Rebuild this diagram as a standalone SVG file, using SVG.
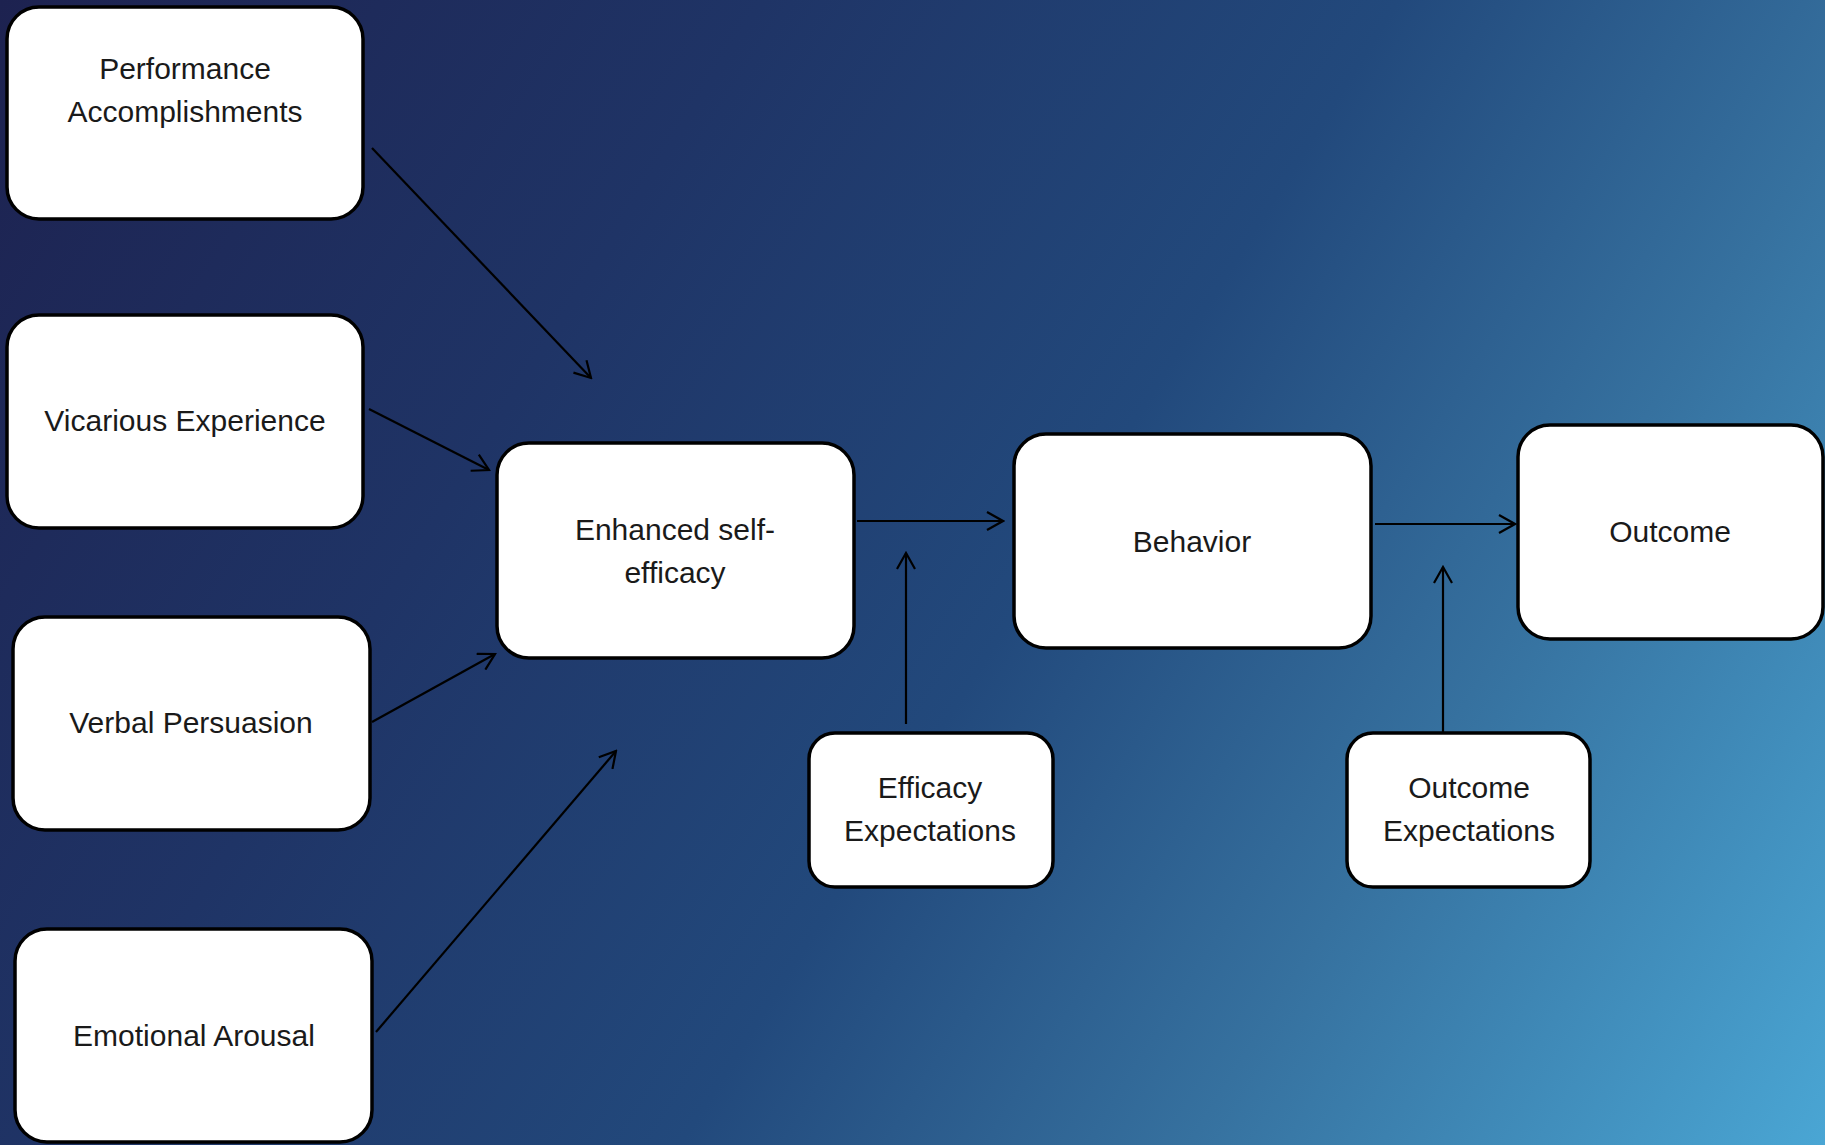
<svg xmlns="http://www.w3.org/2000/svg" width="1825" height="1145" viewBox="0 0 1825 1145">
  <defs>
    <linearGradient id="bg" gradientUnits="userSpaceOnUse" x1="0" y1="0" x2="1825" y2="1145">
      <stop offset="0" stop-color="#1d2250"/>
      <stop offset="0.3" stop-color="#1f3466"/>
      <stop offset="0.55" stop-color="#22497c"/>
      <stop offset="0.75" stop-color="#36719f"/>
      <stop offset="1" stop-color="#4aa6d4"/>
    </linearGradient>
    <marker id="arr" viewBox="0 0 20 20" refX="18" refY="10" markerWidth="20" markerHeight="20" markerUnits="userSpaceOnUse" orient="auto">
      <path d="M2,1 L18,10 L2,19" fill="none" stroke="#000" stroke-width="2.2"/>
    </marker>
  </defs>
  <style>
    .box { fill: #ffffff; stroke: #000000; stroke-width: 3.5; }
    .lbl { font-family: "Liberation Sans", Arial, sans-serif; font-size: 30px; fill: #1a1a1a; text-anchor: middle; }
    .con { stroke: #000000; stroke-width: 2.2; fill: none; marker-end: url(#arr); }
  </style>
  <rect x="0" y="0" width="1825" height="1145" fill="url(#bg)"/>

  <g id="connectors">
    <line class="con" x1="372" y1="148" x2="591" y2="378"/>
    <line class="con" x1="369" y1="409" x2="489" y2="470"/>
    <line class="con" x1="372" y1="722" x2="495" y2="654"/>
    <line class="con" x1="376" y1="1032" x2="616" y2="751"/>
    <line class="con" x1="857" y1="521" x2="1003" y2="521"/>
    <line class="con" x1="906" y1="724" x2="906" y2="553"/>
    <line class="con" x1="1375" y1="524" x2="1515" y2="524"/>
    <line class="con" x1="1443" y1="736" x2="1443" y2="567"/>
  </g>

  <g id="performance">
    <rect class="box" x="7" y="7" width="356" height="212" rx="32"/>
    <text class="lbl" x="185" y="79">Performance</text>
    <text class="lbl" x="185" y="122">Accomplishments</text>
  </g>
  <g id="vicarious">
    <rect class="box" x="7" y="315" width="356" height="213" rx="32"/>
    <text class="lbl" x="185" y="431">Vicarious Experience</text>
  </g>
  <g id="verbal">
    <rect class="box" x="13" y="617" width="357" height="213" rx="32"/>
    <text class="lbl" x="191" y="733">Verbal Persuasion</text>
  </g>
  <g id="emotional">
    <rect class="box" x="15" y="929" width="357" height="213" rx="32"/>
    <text class="lbl" x="194" y="1046">Emotional Arousal</text>
  </g>
  <g id="enhanced">
    <rect class="box" x="497" y="443" width="357" height="215" rx="32"/>
    <text class="lbl" x="675" y="540">Enhanced self-</text>
    <text class="lbl" x="675" y="583">efficacy</text>
  </g>
  <g id="behavior">
    <rect class="box" x="1014" y="434" width="357" height="214" rx="32"/>
    <text class="lbl" x="1192" y="552">Behavior</text>
  </g>
  <g id="outcome">
    <rect class="box" x="1518" y="425" width="305" height="214" rx="32"/>
    <text class="lbl" x="1670" y="542">Outcome</text>
  </g>
  <g id="efficacy-expectations">
    <rect class="box" x="809" y="733" width="244" height="154" rx="26"/>
    <text class="lbl" x="930" y="798">Efficacy</text>
    <text class="lbl" x="930" y="841">Expectations</text>
  </g>
  <g id="outcome-expectations">
    <rect class="box" x="1347" y="733" width="243" height="154" rx="26"/>
    <text class="lbl" x="1469" y="798">Outcome</text>
    <text class="lbl" x="1469" y="841">Expectations</text>
  </g>
</svg>
